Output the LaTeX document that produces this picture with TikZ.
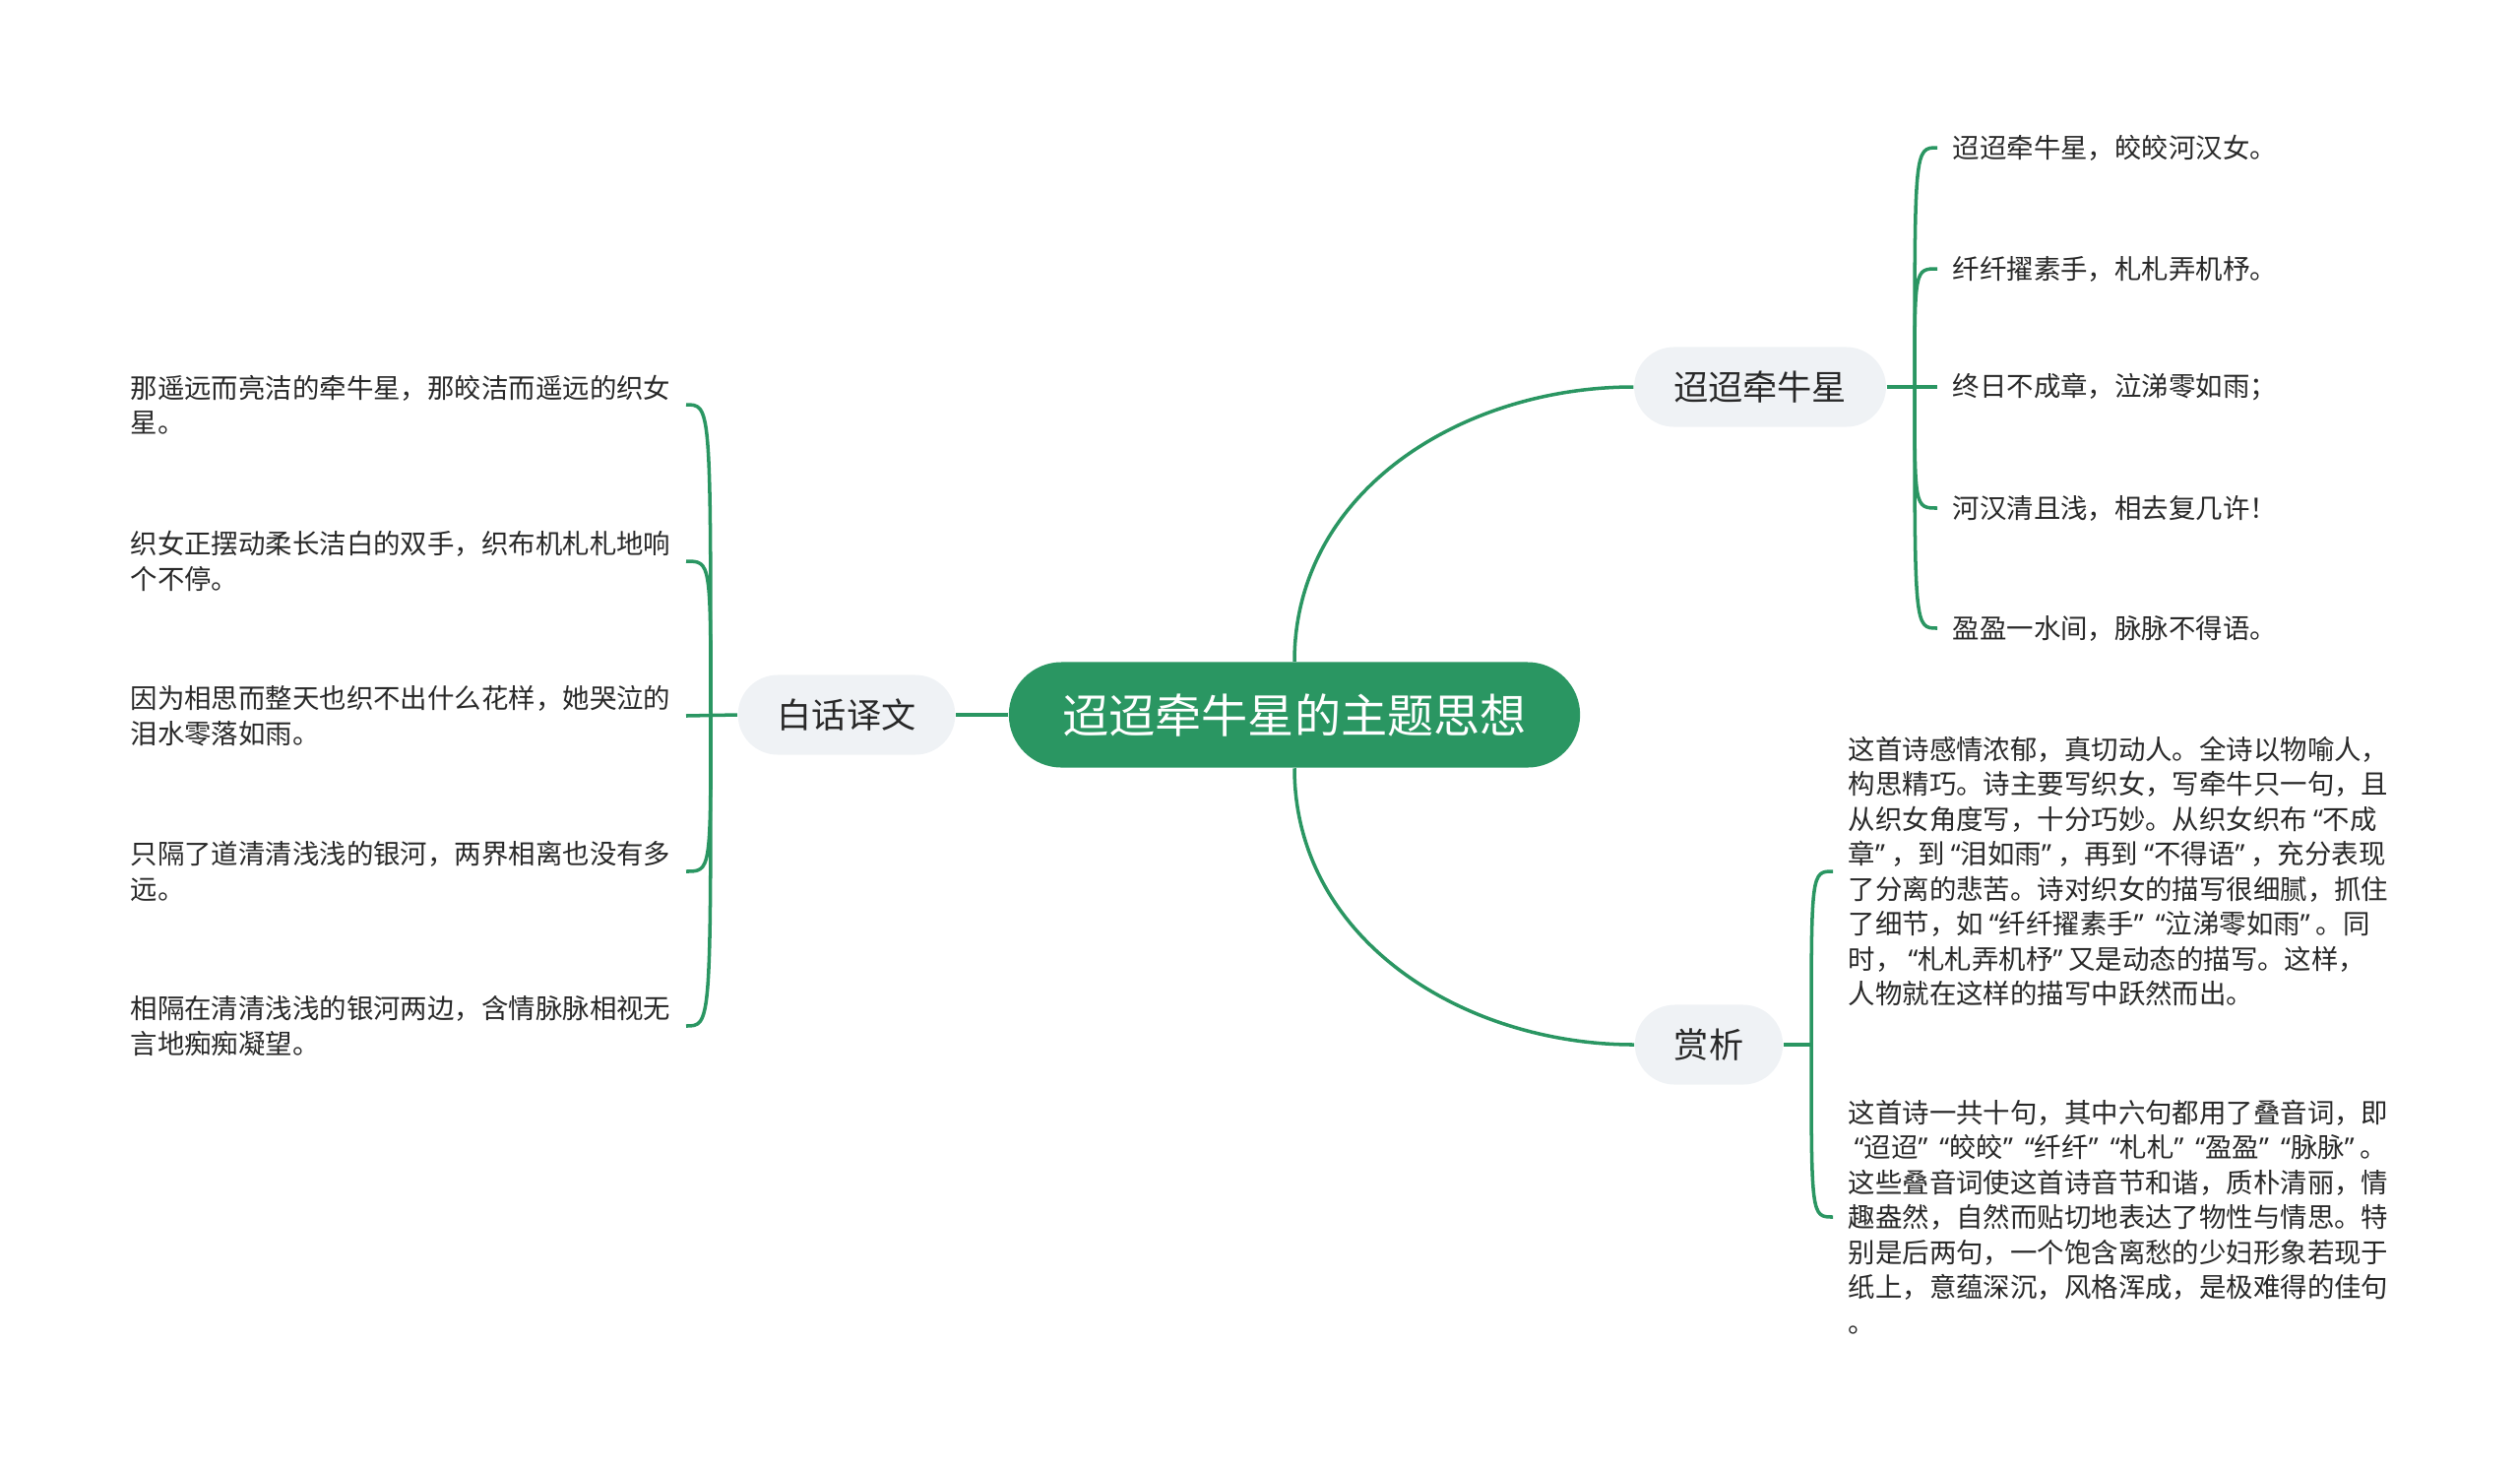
\documentclass[tikz,border=0pt]{standalone}
\usepackage{fontspec}
\setmainfont{Noto Sans CJK SC}
\newfontfamily\quotefont{Noto Sans}
\newcommand\oquote{\hbox to 0.58em{\hss\quotefont “}}
\newcommand\cquote{\hbox to 0.58em{\quotefont ”\hss}}
\usepackage{tikz}
\definecolor{Mind-green}{RGB}{42,150,98}
\definecolor{Mind-gray}{RGB}{239,242,245}
\definecolor{Mind-text}{RGB}{40,40,40}
\tikzset{
  root/.style  ={fill=Mind-green, text=white, rounded corners=0.535cm, minimum height=1.07cm, minimum width=5.8cm, font=\fontsize{13.4pt}{16pt}\selectfont},
  topic/.style ={fill=Mind-gray, text=Mind-text, rounded corners=0.405cm, minimum height=0.81cm, inner xsep=0.4cm, font=\fontsize{10pt}{12pt}\selectfont},
  leaf/.style  ={text=Mind-text, align=left, inner xsep=0.15cm, inner ysep=0pt, font=\fontsize{7.8pt}{10.1pt}\selectfont},
  link/.style  ={draw=Mind-green, line width=1pt}
}
\begin{document}
\begin{tikzpicture}[x=0.01cm, y=-0.01cm]
  \useasboundingbox (0,0) rectangle (2560,1493);

  \node[root ] (root) at (1315, 726) {迢迢牵牛星的主题思想};
  \node[topic] (poem) at (1788, 393) {迢迢牵牛星};
  \node[topic] (tran) at ( 860, 726) {白话译文};
  \node[topic] (appr) at (1736,1061) {赏析};

  \node[leaf, anchor=west] (p1) at (1968, 150) {迢迢牵牛星，皎皎河汉女。};
  \node[leaf, anchor=west] (p2) at (1968, 273) {纤纤擢素手，札札弄机杼。};
  \node[leaf, anchor=west] (p3) at (1968, 393) {终日不成章，泣涕零如雨；};
  \node[leaf, anchor=west] (p4) at (1968, 516) {河汉清且浅，相去复几许！};
  \node[leaf, anchor=west] (p5) at (1968, 638) {盈盈一水间，脉脉不得语。};

  \node[leaf, anchor=east] (t1) at ( 697, 411) {那遥远而亮洁的牵牛星，那皎洁而遥远的织女\\星。};
  \node[leaf, anchor=east] (t2) at ( 697, 570) {织女正摆动柔长洁白的双手，织布机札札地响\\个不停。};
  \node[leaf, anchor=east] (t3) at ( 697, 727) {因为相思而整天也织不出什么花样，她哭泣的\\泪水零落如雨。};
  \node[leaf, anchor=east] (t4) at ( 697, 885) {只隔了道清清浅浅的银河，两界相离也没有多\\远。};
  \node[leaf, anchor=east] (t5) at ( 697,1042) {相隔在清清浅浅的银河两边，含情脉脉相视无\\言地痴痴凝望。};

  \node[leaf, anchor=west] (a1) at (1862, 885) {这首诗感情浓郁，真切动人。全诗以物喻人，\\构思精巧。诗主要写织女，写牵牛只一句，且\\从织女角度写，十分巧妙。从织女织布\oquote 不成\\章\cquote ，到\oquote 泪如雨\cquote ，再到\oquote 不得语\cquote ，充分表现\\了分离的悲苦。诗对织女的描写很细腻，抓住\\了细节，如\oquote 纤纤擢素手\cquote\oquote 泣涕零如雨\cquote 。同\\时，\oquote 札札弄机杼\cquote 又是动态的描写。这样，\\人物就在这样的描写中跃然而出。};
  \node[leaf, anchor=west] (a2) at (1862,1236) {这首诗一共十句，其中六句都用了叠音词，即\\\oquote 迢迢\cquote\oquote 皎皎\cquote\oquote 纤纤\cquote\oquote 札札\cquote\oquote 盈盈\cquote\oquote 脉脉\cquote 。\\这些叠音词使这首诗音节和谐，质朴清丽，情\\趣盎然，自然而贴切地表达了物性与情思。特\\别是后两句，一个饱含离愁的少妇形象若现于\\纸上，意蕴深沉，风格浑成，是极难得的佳句\\。};

  \coordinate (jp) at (1945, 393);
  \coordinate (jt) at ( 722, 726);
  \coordinate (ja) at (1840,1061);

  \draw[link] (root.north) to[out=90, in=180] (poem.west);
  \draw[link] (root.south) to[out=-90, in=180] (appr.west);
  \draw[link] (root.west) -- (tran.east);

  \draw[link] (poem.east) -- (p3.west);
  \foreach \n in {p1,p2,p4,p5}
    \draw[link] (jp) .. controls (jp |- \n.west) .. (\n.west);

  \draw[link] (tran.west) -- (t3.east);
  \foreach \n in {t1,t2,t4,t5}
    \draw[link] (jt) .. controls (jt |- \n.east) .. (\n.east);

  \draw[link] (appr.east) -- (ja);
  \foreach \n in {a1,a2}
    \draw[link] (ja) .. controls (ja |- \n.west) .. (\n.west);
\end{tikzpicture}
\end{document}
